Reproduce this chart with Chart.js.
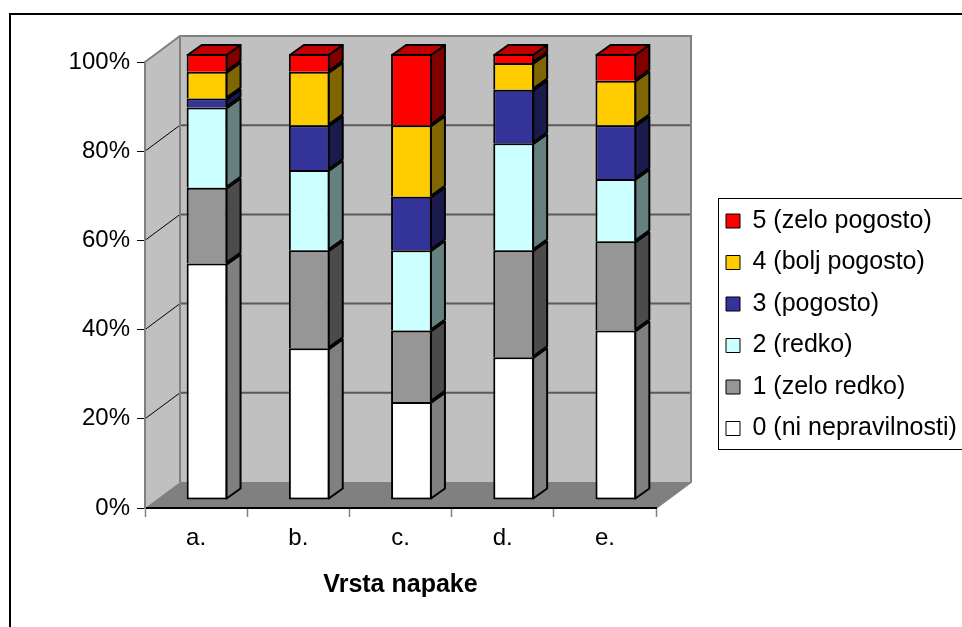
<!DOCTYPE html>
<html><head><meta charset="utf-8">
<script src="https://cdn.jsdelivr.net/npm/chart.js@4/dist/chart.umd.min.js"></script>
<style>html,body{margin:0;padding:0;background:#fff}#wrap{width:962px;height:627px;position:relative}</style>
</head><body><div id="wrap"><canvas id="c"></canvas></div>
<script>
// ---- data ----
const categories = ['a.', 'b.', 'c.', 'd.', 'e.'];
const seriesNames = ['0 (ni nepravilnosti)', '1 (zelo redko)', '2 (redko)', '3 (pogosto)', '4 (bolj pogosto)', '5 (zelo pogosto)'];
const s0 = [53, 34, 22, 32, 38];
const s1 = [17, 22, 16, 24, 20];
const s2 = [18, 18, 18, 24, 14];
const s3 = [2, 10, 12, 12, 12];
const s4 = [6, 12, 16, 6, 10];
const s5 = [4, 4, 16, 2, 6];
const yTicks = [0, 20, 40, 60, 80, 100];
const axisTitle = 'Vrsta napake';

// ---- styles ----
const FONT = "'Liberation Sans', Arial, sans-serif";
const frontColors = ['#ffffff', '#969696', '#ccffff', '#333399', '#ffcc00', '#ff0000'];
const sideColors = ['#808080', '#4b4b4b', '#668080', '#1a1a4d', '#806600', '#800000'];
const topColors = ['#c0c0c0', '#717171', '#99bfbf', '#262673', '#bf9900', '#c00000'];
const WALL = {dx: 35, dy: -26};
const BAR = {shiftX: 11, shiftY: -8, dx: 14, dy: -10};
const LEGEND_BOX = {x: 718, y: 198, h: 251};

function poly(ctx, pts, fill, stroke) {
  ctx.beginPath();
  ctx.moveTo(pts[0][0], pts[0][1]);
  for (let i = 1; i < pts.length; i++) ctx.lineTo(pts[i][0], pts[i][1]);
  ctx.closePath();
  if (fill) { ctx.fillStyle = fill; ctx.fill(); }
  if (stroke) ctx.stroke();
}
function line(ctx, x1, y1, x2, y2) {
  ctx.beginPath(); ctx.moveTo(x1, y1); ctx.lineTo(x2, y2); ctx.stroke();
}

const plot3d = {
  id: 'plot3d',
  beforeDraw(chart) {
    const ctx = chart.ctx;
    const {left: L, right: R} = chart.chartArea;
    const ys = chart.scales.y;
    const dx = WALL.dx, dy = WALL.dy;
    const y0 = ys.getPixelForValue(0), y1 = ys.getPixelForValue(100);
    ctx.save();
    ctx.fillStyle = '#fff'; ctx.fillRect(0, 0, chart.width, chart.height);
    // outer frame
    ctx.strokeStyle = '#000'; ctx.lineWidth = 2;
    ctx.strokeRect(10, 14, 3000, 3000);
    // side wall
    poly(ctx, [[L, y1], [L + dx, y1 + dy], [L + dx, y0 + dy], [L, y0]], '#c0c0c0');
    // back wall
    ctx.fillStyle = '#c0c0c0';
    ctx.fillRect(L + dx, y1 + dy, R - L, y0 - y1);
    // floor
    poly(ctx, [[L, y0], [R, y0], [R + dx, y0 + dy], [L + dx, y0 + dy]], '#808080');
    // gridlines
    yTicks.forEach(v => {
      if (v === 0 || v === 100) return;
      const py = ys.getPixelForValue(v);
      ctx.strokeStyle = '#000'; ctx.lineWidth = 1;
      line(ctx, L, py, L + dx, py + dy);
      ctx.strokeStyle = '#5a5a5a'; ctx.lineWidth = 2;
      line(ctx, L + dx, py + dy, R + dx, py + dy);
    });
    // wall edges
    ctx.strokeStyle = '#808080'; ctx.lineWidth = 2;
    ctx.beginPath();
    ctx.moveTo(L, y1); ctx.lineTo(L + dx, y1 + dy); ctx.lineTo(R + dx, y1 + dy);
    ctx.lineTo(R + dx, y0 + dy); ctx.lineTo(R, y0);
    ctx.stroke();
    line(ctx, L + dx, y1 + dy, L + dx, y0 + dy);
    // legend frame
    ctx.fillStyle = '#fff';
    ctx.fillRect(LEGEND_BOX.x, LEGEND_BOX.y, 400, LEGEND_BOX.h);
    ctx.strokeStyle = '#000'; ctx.lineWidth = 1;
    ctx.strokeRect(LEGEND_BOX.x + 0.5, LEGEND_BOX.y + 0.5, 400, LEGEND_BOX.h);
    ctx.restore();
    // place legend
    const lg = chart.legend;
    if (lg) {
      lg.left = 726 - 16.5; lg.top = 192; lg.width = 300; lg.height = 400;
      lg.right = lg.left + 300; lg.bottom = lg.top + 400;
    }
  },
  beforeDatasetsDraw(chart) {
    chart.ctx.save();
    chart.ctx.translate(BAR.shiftX, BAR.shiftY);
  },
  afterDatasetsDraw(chart) {
    const ctx = chart.ctx;
    ctx.restore();
    ctx.save();
    ctx.lineWidth = 2; ctx.strokeStyle = '#000'; ctx.lineJoin = 'round';
    const n = chart.data.datasets.length;
    const dx = BAR.dx, dy = BAR.dy;
    chart.data.datasets.forEach((ds, di) => {
      const meta = chart.getDatasetMeta(di);
      meta.data.forEach(bar => {
        const {x, y, base, width} = bar.getProps(['x', 'y', 'base', 'width'], true);
        const xr = x + width / 2 + BAR.shiftX - 1;
        const xl = x - width / 2 + BAR.shiftX + 1;
        const yt = Math.min(y, base) + BAR.shiftY + 1;
        const yb = Math.max(y, base) + BAR.shiftY - 1;
        poly(ctx, [[xr, yt], [xr + dx, yt + dy], [xr + dx, yb + dy], [xr, yb]], sideColors[di], true);
        if (di === n - 1) {
          poly(ctx, [[xl, yt], [xl + dx, yt + dy], [xr + dx, yt + dy], [xr, yt]], topColors[di], true);
        }
      });
    });
    ctx.restore();
  }
};

const seriesValues = [s0, s1, s2, s3, s4, s5];
const datasets = seriesValues.map((vals, i) => ({
  label: seriesNames[i],
  data: vals,
  backgroundColor: frontColors[i],
  borderColor: '#000',
  borderWidth: 2,
  borderSkipped: i === 0 ? false : 'start',
  barPercentage: 0.4,
  categoryPercentage: 1.0,
  clip: false
}));

new Chart(document.getElementById('c'), {
  type: 'bar',
  data: {labels: categories, datasets},
  plugins: [plot3d],
  options: {
    responsive: true,
    maintainAspectRatio: false,
    devicePixelRatio: 1,
    animation: false,
    events: [],
    layout: {padding: {left: 0, right: 306, top: 62, bottom: 0}},
    plugins: {
      tooltip: {enabled: false},
      legend: {
        position: 'chartArea',
        align: 'start',
        reverse: true,
        labels: {
          boxWidth: 14, boxHeight: 14, padding: 16.5, color: '#000',
          font: {family: FONT, size: 25},
          generateLabels(chart) {
            const items = Chart.defaults.plugins.legend.labels.generateLabels(chart);
            items.forEach(it => { it.lineWidth = 1; it.strokeStyle = '#000'; });
            return items;
          }
        }
      }
    },
    scales: {
      x: {
        stacked: true,
        offset: true,
        grid: {display: true, drawOnChartArea: false, drawTicks: true, tickLength: 9, tickColor: '#808080', tickWidth: 1.5, offset: true},
        border: {display: true, color: '#000', width: 2},
        ticks: {color: '#000', font: {family: FONT, size: 24}, padding: 7, maxRotation: 0},
        title: {display: true, text: axisTitle, color: '#000', font: {family: FONT, size: 25, weight: 'bold'}, padding: {top: 0, bottom: 27}},
        afterFit(s) { s.height = 119; }
      },
      y: {
        stacked: true,
        min: 0, max: 100,
        afterBuildTicks(s) { s.ticks = yTicks.map(v => ({value: v})); },
        grid: {drawOnChartArea: false, drawTicks: true, tickLength: 8, tickColor: '#000', lineWidth: 1},
        border: {display: true, color: '#808080', width: 2},
        ticks: {color: '#000', font: {family: FONT, size: 24}, padding: 7, callback: v => v + '%'},
        afterFit(s) { s.width = 145; }
      }
    }
  }
});
</script>
</body></html>
